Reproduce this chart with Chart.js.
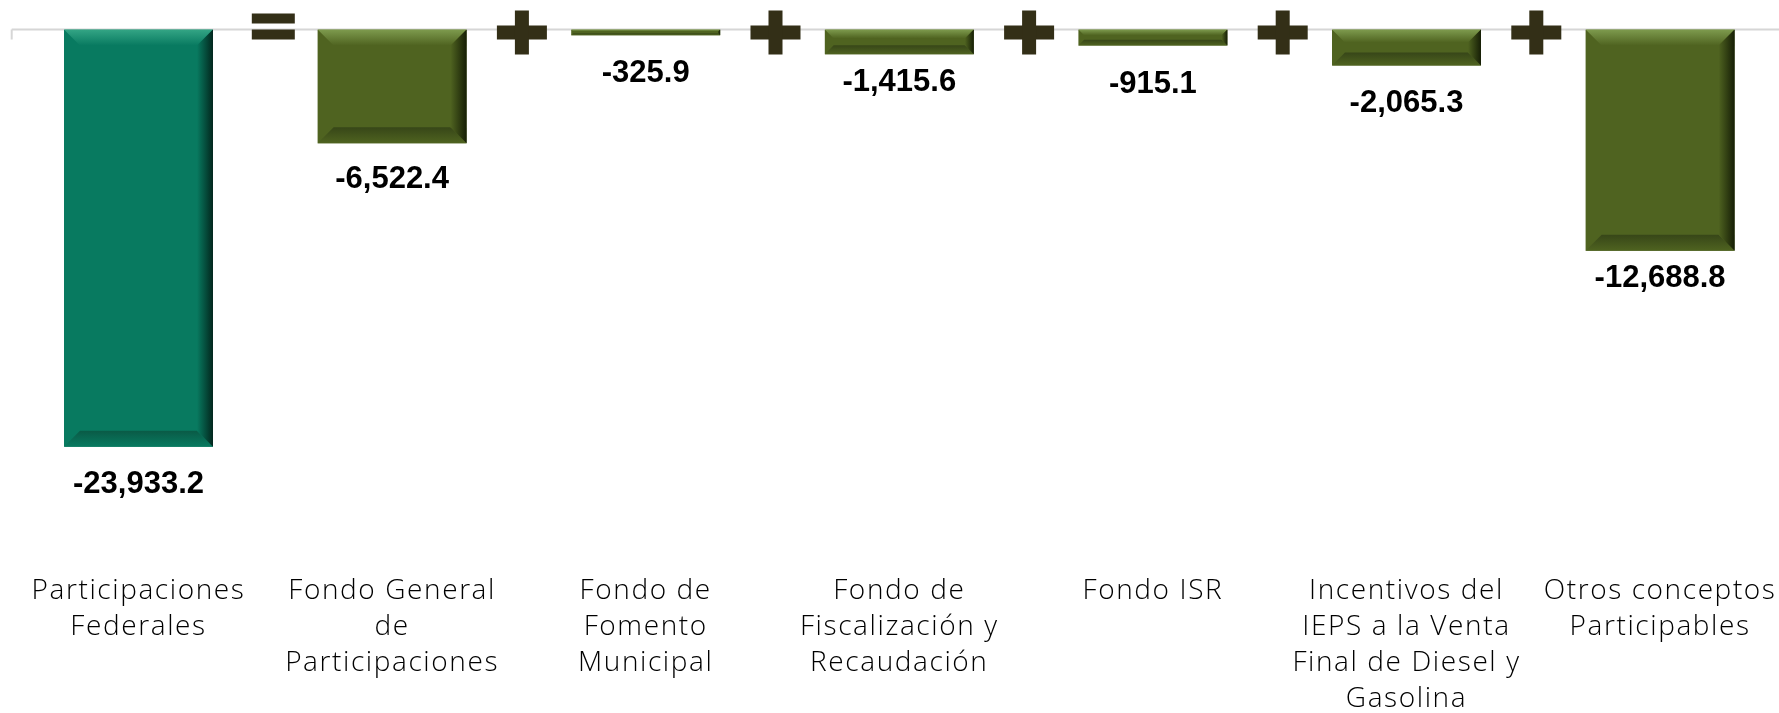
<!DOCTYPE html>
<html>
<head>
<meta charset="utf-8">
<script src="https://cdn.jsdelivr.net/npm/chart.js@4"></script>
<style>
html,body{margin:0;padding:0;background:#ffffff;overflow:hidden;}
#wrap{width:1790px;height:720px;position:relative;}
canvas{display:block;}
</style>
</head>
<body>
<div id="wrap"><canvas id="c" width="1790" height="720"></canvas></div>
<script>
// ---- data ----
const categories = [
  ["Participaciones", "Federales"],
  ["Fondo General", "de", "Participaciones"],
  ["Fondo de", "Fomento", "Municipal"],
  ["Fondo de", "Fiscalización y", "Recaudación"],
  ["Fondo ISR"],
  ["Incentivos del", "IEPS a la Venta", "Final de Diesel y", "Gasolina"],
  ["Otros conceptos", "Participables"]
];
const values = [-23933.2, -6522.4, -325.9, -1415.6, -915.1, -2065.3, -12688.8];
const operators = ["=", "+", "+", "+", "+", "+"];

// ---- styles ----
const TEAL = {face:'#087a60', top:'#34a585', bottom:'#0a5a46', right:'#02261d'};
const OLIVE = {face:'#4f6320', top:'#7e9b4e', bottom:'#374618', right:'#161e06'};
const barStyles = values.map((v, i) => i === 0 ? TEAL : OLIVE);
const labelOffsets = [38, 36, 38, 28, 39, 38, 28];
const OP_COLOR = '#332f17';

const zeroLinePlugin = {
  id: 'zeroLine',
  beforeDatasetsDraw(chart) {
    const {ctx, chartArea, scales: {y}} = chart;
    const y0 = y.getPixelForValue(0);
    ctx.save();
    ctx.strokeStyle = '#d6d6d6';
    ctx.lineWidth = 2;
    ctx.beginPath();
    ctx.moveTo(chartArea.left, y0);
    ctx.lineTo(chart.width, y0);
    ctx.moveTo(chartArea.left, y0);
    ctx.lineTo(chartArea.left, y0 + 10);
    ctx.stroke();
    ctx.restore();
  }
};

const bevelPlugin = {
  id: 'bevel',
  afterDatasetsDraw(chart) {
    const {ctx} = chart;
    const meta = chart.getDatasetMeta(0);
    meta.data.forEach((el, i) => {
      const p = el.getProps(['x', 'y', 'base', 'width'], true);
      const st = barStyles[i];
      const left = p.x - p.width / 2, right = p.x + p.width / 2;
      const top = Math.min(p.y, p.base), bottom = Math.max(p.y, p.base);
      const h = bottom - top;
      const b = Math.min(16, h * 0.36);
      ctx.save();
      // top bevel
      let g = ctx.createLinearGradient(0, top, 0, top + b);
      g.addColorStop(0, st.top);
      g.addColorStop(1, st.face);
      ctx.fillStyle = g;
      ctx.beginPath();
      ctx.moveTo(left, top); ctx.lineTo(right, top);
      ctx.lineTo(right - b, top + b); ctx.lineTo(left + b, top + b);
      ctx.closePath(); ctx.fill();
      // bottom bevel
      g = ctx.createLinearGradient(0, bottom - b, 0, bottom);
      g.addColorStop(0, st.bottom);
      g.addColorStop(1, st.face);
      ctx.fillStyle = g;
      ctx.beginPath();
      ctx.moveTo(left, bottom); ctx.lineTo(right, bottom);
      ctx.lineTo(right - b, bottom - b); ctx.lineTo(left + b, bottom - b);
      ctx.closePath(); ctx.fill();
      // right side
      g = ctx.createLinearGradient(right - Math.max(b, 4), 0, right, 0);
      g.addColorStop(0, st.face);
      g.addColorStop(1, st.right);
      ctx.fillStyle = g;
      ctx.beginPath();
      ctx.moveTo(right, top); ctx.lineTo(right, bottom);
      ctx.lineTo(right - b, bottom - b); ctx.lineTo(right - b, top + b);
      ctx.closePath(); ctx.fill();
      ctx.restore();
    });
  }
};

const valueLabelPlugin = {
  id: 'valueLabels',
  afterDatasetsDraw(chart) {
    const {ctx} = chart;
    const meta = chart.getDatasetMeta(0);
    ctx.save();
    ctx.letterSpacing = '0px';
    ctx.font = 'bold 31px "Liberation Sans", Arial, sans-serif';
    ctx.fillStyle = '#000000';
    ctx.textAlign = 'center';
    ctx.textBaseline = 'middle';
    meta.data.forEach((el, i) => {
      const v = values[i];
      const txt = v.toLocaleString('en-US', {minimumFractionDigits: 1, maximumFractionDigits: 1});
      ctx.fillText(txt, el.x, el.y + labelOffsets[i]);
    });
    ctx.restore();
  }
};

const operatorPlugin = {
  id: 'operators',
  afterDatasetsDraw(chart) {
    const {ctx, scales: {x, y}} = chart;
    const y0 = y.getPixelForValue(0);
    ctx.save();
    ctx.fillStyle = OP_COLOR;
    operators.forEach((op, i) => {
      const cx = (x.getPixelForValue(i) + x.getPixelForValue(i + 1)) / 2 + 3;
      if (op === '=') {
        const w = 43, t = 10, gap = 6, cy = y0 - 3;
        ctx.fillRect(cx - w / 2 + 5, cy - gap / 2 - t, w, t);
        ctx.fillRect(cx - w / 2 + 5, cy + gap / 2, w, t);
      } else {
        const w = 50, hgt = 44, t = 14, cy = y0 + 3;
        ctx.fillRect(cx - w / 2, cy - t / 2, w, t);
        ctx.fillRect(cx - t / 2, cy - hgt / 2, t, hgt);
      }
    });
    ctx.restore();
  }
};

const letterSpacingPlugin = {
  id: 'letterSpacing',
  beforeDraw(chart) { chart.ctx.letterSpacing = '1.6px'; },
  beforeDatasetsDraw(chart) { chart.ctx.letterSpacing = '0px'; },
  beforeUpdate(chart) { chart.ctx.letterSpacing = '1.6px'; },
  afterUpdate(chart) { chart.ctx.letterSpacing = '0px'; }
};

new Chart(document.getElementById('c').getContext('2d'), {
  type: 'bar',
  data: {
    labels: categories,
    datasets: [{
      data: values,
      backgroundColor: barStyles.map(s => s.face),
      borderWidth: 0,
      barPercentage: 1,
      categoryPercentage: 0.5875
    }]
  },
  options: {
    responsive: false,
    animation: false,
    devicePixelRatio: 1,
    layout: {padding: {top: 29.5, left: 11.7, right: 3.1, bottom: 0}},
    plugins: {legend: {display: false}, tooltip: {enabled: false}},
    scales: {
      x: {
        position: 'bottom',
        grid: {display: false, drawTicks: false},
        border: {display: false},
        ticks: {
          autoSkip: false,
          maxRotation: 0,
          minRotation: 0,
          padding: 3,
          color: '#000000',
          font: {family: '"Open Sans", "Noto Sans", sans-serif', size: 28, weight: '300', lineHeight: 36 / 28}
        }
      },
      y: {
        display: false,
        min: -31000,
        max: 0
      }
    }
  },
  plugins: [letterSpacingPlugin, zeroLinePlugin, bevelPlugin, valueLabelPlugin, operatorPlugin]
});
</script>
</body>
</html>
